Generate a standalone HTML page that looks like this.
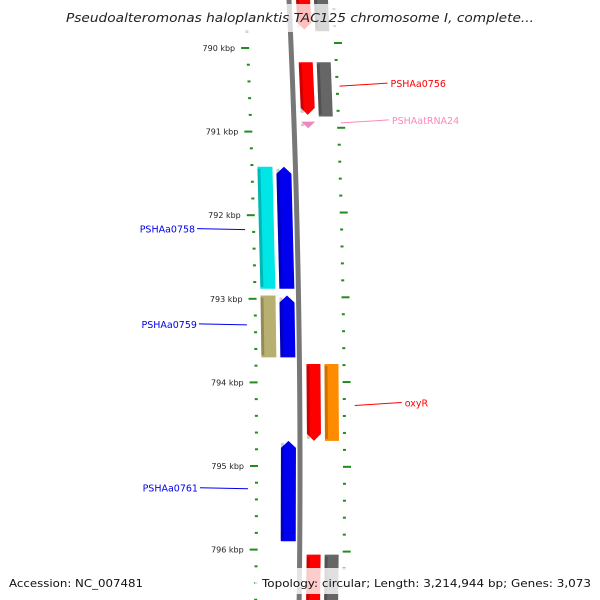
<!DOCTYPE html>
<html><head><meta charset="utf-8"><style>
html,body{margin:0;padding:0;background:#fff;}
svg{display:block;font-family:"DejaVu Sans","Liberation Sans",sans-serif;}
</style></head><body>
<svg id="map" width="600" height="600" viewBox="0 0 600 600" xmlns="http://www.w3.org/2000/svg">
<g id="ticks"></g>
<g id="features"></g>
<path id="backbone" fill="none" stroke="#777" stroke-width="5"/>
<g id="labels"></g>
<rect x="60" y="4" width="480" height="28" fill="#fff" fill-opacity="0.75"/>
<text x="300" y="22" text-anchor="middle" font-size="12.5" font-style="italic" fill="#222" textLength="468" lengthAdjust="spacingAndGlyphs">Pseudoalteromonas haloplanktis TAC125 chromosome I, complete...</text>
<rect x="255" y="568" width="340" height="26" fill="#fff" fill-opacity="0.8"/>
<text x="9" y="587" font-size="11" fill="#111" textLength="134" lengthAdjust="spacingAndGlyphs">Accession: NC_007481</text>
<text x="262" y="587" font-size="11" fill="#111" textLength="329" lengthAdjust="spacingAndGlyphs">Topology: circular; Length: 3,214,944 bp; Genes: 3,073</text>
</svg>
<script>
const majorTicks=[790,791,792,793,794,795,796];
const featStart=[789.3,790.17,789.3,790.17,790.88,791.42,791.42,792.96,792.96,793.78,793.78,794.70,796.06,796.06];
const featEnd=[789.78,790.80,789.8,790.82,790.96,792.88,792.88,793.70,793.70,794.70,794.70,795.90,796.7,796.7];
const featLane=[1,1,2,2,1,-2,-1,-2,-1,1,2,-1,1,2];
const featColor=["#ff0000","#ff0000","#666666","#666666","#ee88bb","#00e5e5","#0000ee","#b8b070","#0000ee","#ff0000","#ff8c00","#0000ee","#ff0000","#666666"];
const featDir=["-","-","0","0","-","0","+","0","+","-","0","+","0","0"];
const featNames=["f-red-a","f-red-b","f-gray-a","f-gray-b","f-trna","f-cyan","f-blue-a","f-khaki","f-blue-b","f-red-c","f-orange","f-blue-c","f-red-d","f-gray-d"];
const labelText=["PSHAa0756","PSHAatRNA24","PSHAa0758","PSHAa0759","oxyR","PSHAa0761"];
const labelKbp=[790.42,790.86,792.16,793.3,794.24,795.26];
const labelColor=["#ff0000","#ff88bb","#0000ee","#0000ee","#ff0000","#0000ee"];
const labelSide=[1,1,-1,-1,1,-1];
const NS="http://www.w3.org/2000/svg";
function yOf(k){return 48+(k-790)*83.6;}
function bx(y){const t=(y-470)/470;return 300-11*t*t;}
function mk(tag,attrs,parent){const e=document.createElementNS(NS,tag);for(const a in attrs)e.setAttribute(a,attrs[a]);parent.appendChild(e);return e;}
let d="";for(let y=-5;y<=605;y+=5){d+=(y==-5?"M":"L")+bx(y).toFixed(2)+" "+y+" ";}
document.getElementById('backbone').setAttribute('d',d);
const tg=document.getElementById('ticks');
for(let i=-10;i<=75;i+=2){
  const k=790+i/10;const y=yOf(k);if(y<-5||y>605)continue;
  const major=i%10===0;const b=bx(y);
  const yr=y-5+7*(y-48)/502;
  const l=mk('rect',{x:major?b-50:b-45,y:y-1,width:major?8:3,height:2,fill:'#228b22'},tg);
  
  
  const br=bx(yr);
  const r=mk('rect',{x:br+43,y:yr-1,width:major?8:3,height:2,fill:'#228b22'},tg);
  
  
}
majorTicks.forEach(k=>{
  const y=yOf(k);
  const t=mk('text',{x:bx(y)-56,y:y+3,'text-anchor':'end','font-size':'8',fill:'#222'},tg);
  t.textContent=k+' kbp';
  
  
});
const fg=document.getElementById('features');
const laneOff={1:[7,21],2:[25,39],"-1":[-19,-4],"-2":[-38,-23]};
for(let i=0;i<featStart.length;i++){
  const y0=yOf(featStart[i]),y1=yOf(featEnd[i]);const o=laneOff[featLane[i]];
  const b0=bx(y0),b1=bx(y1);
  const x0a=b0+o[0],x0b=b0+o[1],x1a=b1+o[0],x1b=b1+o[1];
  let pts;
  if(featDir[i]==="-"){const h=Math.min(7,(y1-y0));pts=[[x0a,y0],[x0b,y0],[x1b,y1-h],[(x1a+x1b)/2,y1],[x1a,y1-h]];}
  else if(featDir[i]==="+"){const h=7;pts=[[(x0a+x0b)/2,y0],[x0b,y0+h],[x1b,y1],[x1a,y1],[x0a,y0+h]];}
  else pts=[[x0a,y0],[x0b,y0],[x1b,y1],[x1a,y1]];
  const p=mk('polygon',{points:pts.map(q=>q.join(',')).join(' '),fill:featColor[i]},fg);
  
  
  const s=mk('polygon',{points:[[x0a,y0+2],[x0a+3,y0+2],[x1a+3,y1-2],[x1a,y1-2]].map(q=>q.join(',')).join(' '),fill:'#000','fill-opacity':0.2},fg);
  
  
}
const lg=document.getElementById('labels');
for(let i=0;i<labelText.length;i++){
  const y=yOf(labelKbp[i]);const b=bx(y);
  let x1,x2,tx,anchor;
  if(labelSide[i]>0){x1=b+(labelText[i]==="oxyR"?55:47);x2=x1+(labelText[i]==="oxyR"?47:48);tx=x2+3;anchor='start';}
  else{x1=b-52;x2=b-100;tx=x2-2;anchor='end';}
  const ln=mk('line',{x1:x1,y1:y+(labelSide[i]>0?3:1),x2:x2,y2:y,stroke:labelColor[i],'stroke-width':1},lg);
  
  
  const t=mk('text',{x:tx,y:y+4,'text-anchor':anchor,'font-size':'9.5',fill:labelColor[i]},lg);
  t.textContent=labelText[i];
  
  
}
</script>
</body></html>
